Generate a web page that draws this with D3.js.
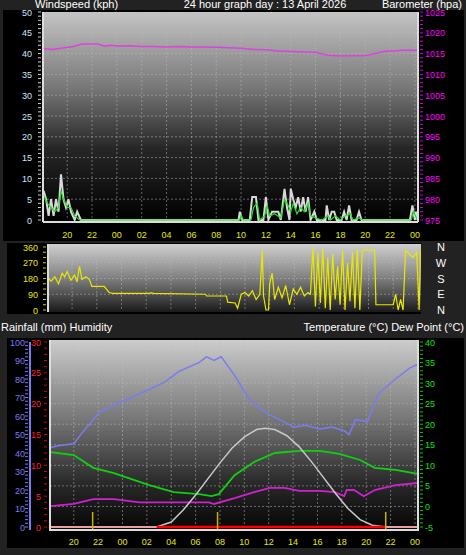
<!DOCTYPE html>
<html><head><meta charset="utf-8">
<script src="https://cdn.jsdelivr.net/npm/d3@7"></script>
<style>body{margin:0;background:#222;}svg{display:block;font-family:"Liberation Sans",Arial,sans-serif;}</style>
</head><body>
<svg id="c" width="466" height="555"></svg>
<script>
// data: [hour since midnight of first day, value]
var hourTicks = [20, 22, 24, 26, 28, 30, 32, 34, 36, 38, 40, 42, 44, 46, 48];
var pressure = [[18.1,1016.2],[18.8,1016.0],[19.5,1016.3],[20.5,1016.7],[21.2,1017.3],[22.5,1017.3],[23,1016.8],[23.5,1017.0],[24,1016.8],[25,1016.9],[26,1016.7],[27,1016.7],[28,1016.6],[29,1016.7],[30,1016.6],[31,1016.6],[32,1016.5],[33,1016.4],[34,1016.3],[35,1016.0],[36,1015.9],[37,1015.6],[38,1015.5],[39,1015.4],[40,1015.3],[41,1014.6],[42,1014.4],[43,1014.5],[44,1014.5],[44.8,1015.0],[45.5,1015.5],[46.5,1015.7],[47,1015.8],[48.2,1015.8]];
var windGust = [[18.1,7],[18.3,5],[18.5,1],[18.7,5],[18.9,1],[19.1,5],[19.3,2],[19.5,11],[19.7,5],[19.9,3],[20.1,5],[20.3,2],[20.6,0],[20.8,2],[21.1,0],[33.8,0],[33.9,2],[34.1,0],[34.7,0],[34.9,5.5],[35.2,5.5],[35.4,0],[35.8,0],[36.0,5.5],[36.2,0],[36.5,2],[37.0,2],[37.2,0],[37.5,7.5],[37.7,3],[37.9,0],[38.0,7.5],[38.2,5],[38.4,3],[38.6,5.5],[38.8,2],[39.0,5.5],[39.2,2],[39.4,5.5],[39.6,0],[39.9,2],[40.1,0],[40.8,0],[40.9,3.5],[41.1,0],[41.3,2],[41.5,2],[41.7,0],[42.1,0],[42.3,2],[42.5,0],[42.7,3.5],[42.9,0],[43.3,0],[43.5,2],[43.7,0],[47.6,0],[47.8,3.5],[48.0,0],[48.1,2],[48.2,0]];
var windAvg = [[18.1,6],[18.4,4],[18.7,3],[19.0,2],[19.3,3],[19.5,7],[19.7,5],[20.0,3],[20.3,3],[20.6,1],[21.0,0],[33.9,0],[34.0,1],[34.2,0],[34.8,0],[35.0,3],[35.3,4],[35.5,0],[35.9,1],[36.1,3.5],[36.3,1],[36.7,1.5],[37.2,0.5],[37.5,5],[37.8,3.5],[38.0,2],[38.2,4],[38.5,1.5],[38.8,3],[39.1,2],[39.4,4],[39.6,1],[40.0,0.5],[40.5,0],[41.0,1],[41.2,0],[41.6,1],[42.0,0],[42.4,1],[42.8,1.5],[43.0,0],[43.5,0.5],[43.8,0],[47.7,0],[47.9,2],[48.2,0]];
var windDir = [[18.1,180],[18.3,165],[18.6,190],[18.9,150],[19.2,210],[19.4,190],[19.6,220],[19.9,170],[20.2,200],[20.4,160],[20.6,250],[20.8,175],[21.1,190],[21.4,175],[21.6,135],[22.6,135],[23.0,100],[23.3,95],[26.2,95],[26.4,98],[26.6,95],[30.8,90],[30.9,80],[32.5,80],[32.6,45],[33.2,40],[33.4,10],[33.7,90],[34.0,100],[34.3,80],[34.6,110],[34.9,60],[35.2,90],[35.4,340],[35.5,80],[35.7,0],[35.9,0],[36.0,150],[36.2,210],[36.4,60],[36.7,130],[37.0,70],[37.3,140],[37.6,30],[37.9,120],[38.2,90],[38.5,130],[38.8,80],[39.1,100],[39.3,90],[39.5,360],[39.7,20],[39.9,330],[40.1,40],[40.3,350],[40.5,10],[40.7,300],[40.9,0],[41.1,320],[41.3,60],[41.5,250],[41.7,30],[41.9,340],[42.1,0],[42.3,270],[42.5,50],[42.7,330],[42.9,10],[43.1,350],[43.3,0],[43.5,340],[43.8,345],[44.5,340],[44.6,30],[46.0,30],[46.2,90],[46.4,0],[46.6,60],[46.8,0],[47.0,340],[47.3,320],[47.6,300],[47.9,330],[48.1,0],[48.2,340]];
var humidity = [[18.1,43],[18.8,44],[20,45],[20.7,51],[22.1,62],[23.7,67],[25.4,72],[27.4,78],[28.6,84],[30.3,89],[30.9,92],[31.5,90],[32.1,92],[33.2,82],[34.4,69],[35.7,62],[36.9,58],[38.1,54],[39.0,55],[40.2,53],[41.2,54],[42.2,52],[42.6,50],[43.1,58],[44.1,57],[45,72],[46.4,80],[47.6,86],[48.25,88]];
var temperature = [[18.1,13.2],[20,12.5],[21.6,9.4],[23.3,8.1],[24.5,6.9],[26.2,5.2],[28.2,3.5],[30.3,3.0],[31.3,2.5],[31.9,3.0],[33.2,7.6],[34.8,10.8],[36.5,13.0],[38.5,13.5],[40.2,13.5],[41.8,12.8],[43.5,11.3],[44.7,9.4],[46.4,8.9],[48.25,7.9]];
var dewPoint = [[18.1,0.1],[20,0.6],[21.6,1.8],[23.3,1.8],[25.4,1.0],[27.8,1.0],[31.1,1.0],[31.5,0.6],[33.2,2.0],[34.8,3.5],[36.1,4.5],[37.3,4.5],[38.5,3.8],[40.2,3.8],[41.4,3.5],[42.2,2.5],[42.4,4.0],[43.0,4.0],[43.8,2.5],[44.7,4.0],[46.4,5.2],[48.25,5.7]];
var solar = [[26.8,0],[28,40],[29,140],[30,260],[31,390],[32,520],[33,640],[34,730],[35,790],[35.7,800],[36.5,790],[37.5,740],[38.5,650],[39.5,530],[40.5,400],[41.5,270],[42.5,150],[43.5,60],[44.5,15],[45.6,0]];
var rain = [[26.8,0],[45.6,0]];
var sunMarks = [21.55, 31.8, 45.6];
var dirLabels = ['N', 'W', 'S', 'E', 'N'];

var svg = d3.select('#c');
var domain = [18.05, 48.25];
var fmtHour = function(h) { return d3.format('02d')(h % 24); };

function panel(x0, x1, y0, y1, id, stops) {
  var g = svg.append('defs').append('linearGradient').attr('id', id)
    .attr('x1', 0).attr('y1', 0).attr('x2', 0).attr('y2', 1);
  stops.forEach(function(s) { g.append('stop').attr('offset', s[0]).attr('stop-color', s[1]); });
  svg.append('rect').attr('x', x0).attr('y', y0).attr('width', x1 - x0).attr('height', y1 - y0)
    .attr('fill', 'url(#' + id + ')');
}

function grid(x, y, yTicks) {
  var r = x.range(), d = y.range();
  svg.append('g').selectAll('line').data(hourTicks).join('line')
    .attr('x1', x).attr('x2', x).attr('y1', d[1]).attr('y2', d[0])
    .attr('stroke', '#bbb').attr('stroke-opacity', 0.5).attr('stroke-dasharray', '2,2');
  svg.append('g').selectAll('line').data(yTicks).join('line')
    .attr('x1', r[0]).attr('x2', r[1]).attr('y1', y).attr('y2', y)
    .attr('stroke', '#bbb').attr('stroke-opacity', 0.5).attr('stroke-dasharray', '2,2');
}

function path(data, x, y, color, width) {
  svg.append('path').datum(data)
    .attr('d', d3.line().x(function(d) { return x(d[0]); }).y(function(d) { return y(d[1]); }))
    .attr('fill', 'none').attr('stroke', color).attr('stroke-width', width || 1.5);
}

function axisLabels(scale, ticks, xPos, anchor, color, fmt) {
  svg.append('g').selectAll('text').data(ticks).join('text')
    .attr('x', xPos).attr('y', function(d) { return scale(d) + 3.5; })
    .attr('text-anchor', anchor).attr('fill', color).attr('font-size', 9)
    .text(fmt || function(d) { return d; });
}

function xLabels(x, yPos) {
  svg.append('g').selectAll('text').data(hourTicks).join('text')
    .attr('x', x).attr('y', yPos).attr('text-anchor', 'middle')
    .attr('fill', '#e8e800').attr('font-size', 9).text(fmtHour);
}

function minorTicks(xPos, y, step, lo, hi, color, dir) {
  svg.append('g').selectAll('line').data(d3.range(lo, hi + 0.001, step)).join('line')
    .attr('x1', xPos).attr('x2', xPos + dir * 3).attr('y1', y).attr('y2', y)
    .attr('stroke', color);
}

/*
 * top panel: wind and pressure
 */
svg.append('rect').attr('x', 3).attr('y', 10).attr('width', 461).attr('height', 231).attr('fill', '#000');
var xTop = d3.scaleLinear().domain(domain).range([43, 418]);
var yWind = d3.scaleLinear().domain([0, 50]).range([220, 12]);
var yBaro = d3.scaleLinear().domain([975, 1025]).range([220, 12]);
panel(43, 418, 12, 222, 'gTop', [[0, '#c4c4c4'], [0.35, '#7a7a7a'], [0.65, '#262626'], [1, '#000']]);
grid(xTop, yWind, d3.range(5, 50, 5));
path(pressure, xTop, yBaro, '#e040e0', 1.5);
path(windGust, xTop, yWind, '#d8d8d8', 2);
path(windAvg, xTop, yWind, '#20e020', 1.2);
svg.append('line').attr('x1', 43).attr('x2', 43).attr('y1', 12).attr('y2', 222).attr('stroke', '#ddd').attr('stroke-width', 2);
svg.append('line').attr('x1', 418).attr('x2', 418).attr('y1', 12).attr('y2', 222).attr('stroke', '#ddd').attr('stroke-width', 2);
svg.append('line').attr('x1', 43).attr('x2', 418).attr('y1', 222).attr('y2', 222).attr('stroke', '#ddd').attr('stroke-width', 2);
minorTicks(41, yWind, 1, 0, 50, '#ccc', -1);
minorTicks(420, yBaro, 1, 975, 1025, '#c0c', 1);
axisLabels(yWind, d3.range(0, 51, 5), 32, 'end', '#cce8ff');
axisLabels(yBaro, d3.range(975, 1026, 5), 425, 'start', '#ff00ff');
xLabels(xTop, 238);

svg.append('text').attr('x', 35).attr('y', 8).attr('fill', '#fff').attr('font-size', 11).text('Windspeed (kph)');
svg.append('text').attr('x', 265).attr('y', 8).attr('fill', '#fff').attr('font-size', 11).attr('text-anchor', 'middle').text('24 hour graph day : 13 April 2026');
svg.append('text').attr('x', 462).attr('y', 8).attr('fill', '#fff').attr('font-size', 11).attr('text-anchor', 'end').text('Barometer (hpa)');

/*
 * middle panel: wind direction
 */
svg.append('rect').attr('x', 7).attr('y', 243).attr('width', 414).attr('height', 71).attr('fill', '#000');
var xMid = d3.scaleLinear().domain(domain).range([48, 421]);
var yDir = d3.scaleLinear().domain([0, 360]).range([310, 247]);
panel(48, 421, 244, 312, 'gMid', [[0, '#d0d0d0'], [0.5, '#808080'], [1, '#1a1a1a']]);
grid(xMid, yDir, [90, 180, 270]);
path(windDir, xMid, yDir, '#e8e800', 1.2);
svg.append('line').attr('x1', 48).attr('x2', 48).attr('y1', 244).attr('y2', 312).attr('stroke', '#ddd').attr('stroke-width', 2);
minorTicks(46, yDir, 30, 0, 360, '#cc0', -1);
axisLabels(yDir, [0, 90, 180, 270, 360], 38, 'end', '#e8e800');
svg.append('g').selectAll('text').data(dirLabels).join('text')
  .attr('x', 441).attr('y', function(d, i) { return yDir(360 - i * 90) + 4; })
  .attr('text-anchor', 'middle').attr('fill', '#fff').attr('font-size', 11).text(function(d) { return d; });

/*
 * bottom panel: rain, humidity, temperature, dew point
 */
svg.append('text').attr('x', 1).attr('y', 331).attr('fill', '#fff').attr('font-size', 11).text('Rainfall (mm)  Humidity');
svg.append('text').attr('x', 464).attr('y', 331).attr('fill', '#fff').attr('font-size', 11).attr('text-anchor', 'end').text('Temperature (°C) Dew Point (°C)');
svg.append('rect').attr('x', 7).attr('y', 338).attr('width', 457).attr('height', 210).attr('fill', '#000');
var xBot = d3.scaleLinear().domain(domain).range([50, 418]);
var yHum = d3.scaleLinear().domain([0, 100]).range([527, 342]);
var yRain = d3.scaleLinear().domain([0, 30]).range([527, 342]);
var yTemp = d3.scaleLinear().domain([-5, 40]).range([527, 342]);
var ySolar = d3.scaleLinear().domain([0, 1500]).range([527, 342]);
panel(50, 418, 340, 530, 'gBot', [[0, '#cccccc'], [0.4, '#7a7a7a'], [0.75, '#2a2a2a'], [1, '#050505']]);
grid(xBot, yTemp, d3.range(0, 40, 5));
path(humidity, xBot, yHum, '#7b7bf0', 1.5);
path(temperature, xBot, yTemp, '#10d010', 1.8);
path(dewPoint, xBot, yTemp, '#d020d0', 1.8);
path(solar, xBot, ySolar, '#c8c8c8', 1.5);
svg.append('line').attr('x1', 50).attr('x2', 418).attr('y1', yRain(0)).attr('y2', yRain(0)).attr('stroke', '#e8a0a0').attr('stroke-width', 2);
path(rain, xBot, yRain, '#ff0000', 2.5);
svg.append('g').selectAll('line').data(sunMarks).join('line')
  .attr('x1', xBot).attr('x2', xBot).attr('y1', 512).attr('y2', 531)
  .attr('stroke', '#c8b400').attr('stroke-width', 1.5);
svg.append('line').attr('x1', 50).attr('x2', 50).attr('y1', 340).attr('y2', 531).attr('stroke', '#ddd').attr('stroke-width', 2);
svg.append('line').attr('x1', 418).attr('x2', 418).attr('y1', 340).attr('y2', 531).attr('stroke', '#ddd').attr('stroke-width', 2);
svg.append('line').attr('x1', 50).attr('x2', 418).attr('y1', 530).attr('y2', 530).attr('stroke', '#ddd').attr('stroke-width', 2);
svg.append('line').attr('x1', 30).attr('x2', 30).attr('y1', 342).attr('y2', 530).attr('stroke', '#7b7bf0').attr('stroke-width', 2);
minorTicks(28, yHum, 2, 0, 100, '#7b7bf0', -1);
minorTicks(47, yRain, 1, 0, 30, '#d00', -1);
minorTicks(420, yTemp, 1, -5, 40, '#0c0', 1);
axisLabels(yHum, d3.range(0, 101, 10), 25, 'end', '#7b7bf0');
axisLabels(yRain, d3.range(0, 31, 5), 41, 'end', '#ff2020');
axisLabels(yTemp, d3.range(-5, 41, 5), 425, 'start', '#10e010');
xLabels(xBot, 545);
</script>
</body></html>
